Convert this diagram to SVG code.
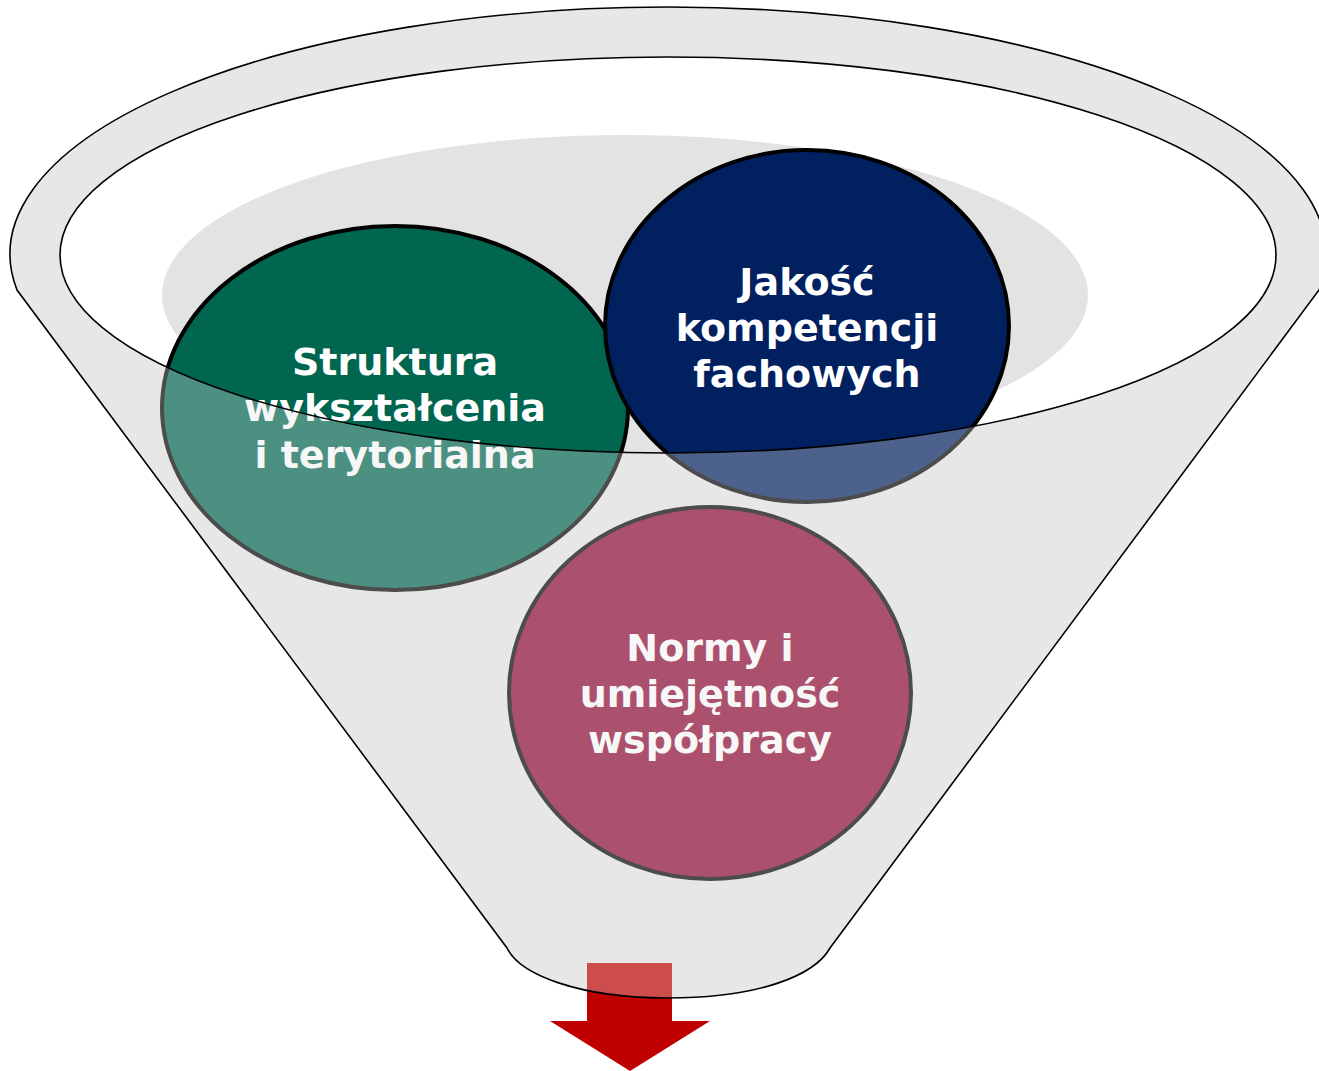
<svg xmlns="http://www.w3.org/2000/svg" width="1319" height="1071" viewBox="0 0 1319 1071">
  <style>
    .lbl { font-family: "DejaVu Sans", Verdana, sans-serif; font-weight: bold; font-size: 38px; fill: #FFFFFF; text-anchor: middle; }
    .circ { stroke: #000000; stroke-width: 4; }
    .outline { fill: none; stroke: #000000; stroke-width: 1.6; }
  </style>
  <defs>
    <path id="funnelPath" d="M 17 290 A 658 247 0 1 1 1319 290 L 830 948 C 815 975 760 998 668 998 C 580 998 520 975 507 948 Z"/>
  </defs>

  <g id="funnel-base">
    <use href="#funnelPath" fill="#E8E8E8"/>
    <ellipse cx="668" cy="255" rx="608" ry="198" fill="#FFFFFF"/>
    <ellipse cx="625" cy="295" rx="463" ry="160" fill="#E3E3E3"/>
  </g>

  <g id="connectors">
    <path d="M 587 963 L 672 963 L 672 1021 L 710 1021 L 630 1071 L 550 1021 L 587 1021 Z" fill="#C00000"/>
  </g>

  <g id="node-struktura">
    <ellipse class="circ" cx="395" cy="408" rx="233" ry="182" fill="#006650"/>
    <text class="lbl" x="395" y="375">Struktura</text>
    <text class="lbl" x="395" y="421">wykształcenia</text>
    <text class="lbl" x="395" y="468">i terytorialna</text>
  </g>

  <g id="node-jakosc">
    <ellipse class="circ" cx="807" cy="326" rx="202" ry="176" fill="#002060"/>
    <text class="lbl" x="807" y="295">Jakość</text>
    <text class="lbl" x="807" y="341">kompetencji</text>
    <text class="lbl" x="807" y="387">fachowych</text>
  </g>

  <g id="node-normy">
    <ellipse class="circ" cx="710" cy="693" rx="201" ry="186" fill="#900832"/>
    <text class="lbl" x="710" y="661">Normy i</text>
    <text class="lbl" x="710" y="707">umiejętność</text>
    <text class="lbl" x="710" y="753">współpracy</text>
  </g>

  <g id="funnel-front">
    <path d="M 17 290 A 658 247 0 1 1 1319 290 L 830 948 C 815 975 760 998 668 998 C 580 998 520 975 507 948 Z M 60 255 A 608 198 0 1 0 1276 255 A 608 198 0 1 0 60 255 Z" fill="#E8E8E8" fill-opacity="0.33" fill-rule="evenodd"/>
    <use href="#funnelPath" class="outline"/>
    <ellipse class="outline" cx="668" cy="255" rx="608" ry="198"/>
  </g>
</svg>
